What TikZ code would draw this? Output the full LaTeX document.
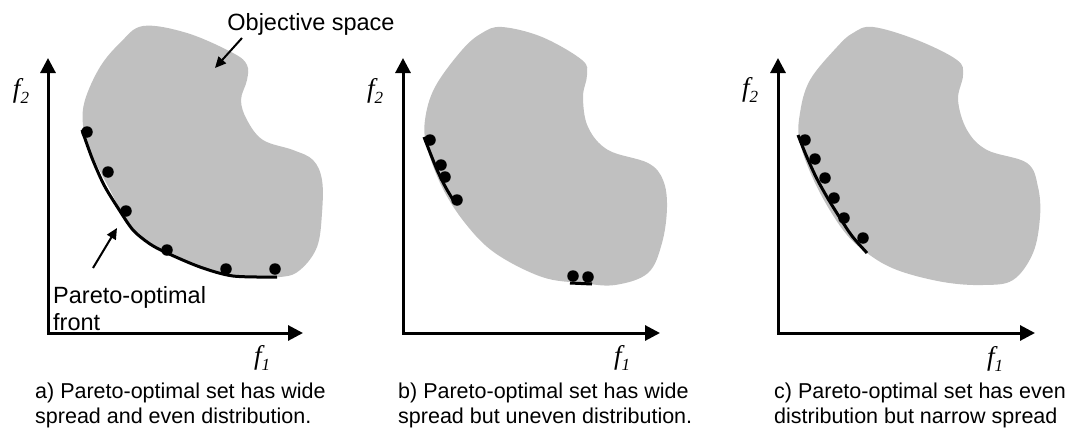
\documentclass[tikz,border=0pt]{standalone}
\usepackage{fontspec}
\setmainfont{Liberation Sans}
\newfontfamily\axisfont{Liberation Serif}
\usepackage{xcolor}
\usetikzlibrary{arrows.meta, positioning}

\definecolor{blobgray}{RGB}{192,192,192}
\newcommand{\objf}[1]{{\axisfont\itshape f\raisebox{-0.22em}{\fontsize{17}{17}\selectfont #1}}}

\begin{document}
\begin{tikzpicture}[
    x=1pt, y=-1pt,
    blob/.style={fill=blobgray},
    axis/.style={line width=3pt, {Triangle[length=15pt, width=15pt]}-{Triangle[length=15pt, width=15pt]}},
    front/.style={line width=3pt},
    dot/.style={circle, fill=black, inner sep=0pt, minimum size=11.5pt},
    pointer/.style={line width=2pt, -{Triangle[length=11pt, width=10pt]}},
    note/.style={font=\fontsize{23.5}{27}\selectfont, align=left, inner sep=0pt},
    caption/.style={font=\fontsize{21.5}{25}\selectfont, align=left, inner sep=0pt, anchor=north west},
    varlabel/.style={font=\fontsize{27}{27}\selectfont, inner sep=0pt}
]
\useasboundingbox (0,0) rectangle (1065,431);

% Objective spaces
\fill[blob] plot[smooth cycle, tension=0.6] coordinates {(143,26) (187,33) (233,53) (247,65) (247,80) (241,100) (247,120) (263,140) (293,150) (313,160) (322,180) (322,213) (317,247) (300,270) (280,277) (233,277) (200,267) (167,253) (133,230) (110,190) (90,150) (83,125) (85,100) (100,67) (120,43)};
\fill[blob] plot[smooth cycle, tension=0.6] coordinates {(502,27) (542,37) (582,60) (587,75) (583,97) (588,127) (608,150) (648,163) (663,180) (667,207) (662,243) (648,273) (615,285) (582,283) (542,277) (495,253) (465,223) (442,187) (427,147) (425,120) (435,87) (462,50) (482,33)};
\fill[blob] plot[smooth cycle, tension=0.6] coordinates {(873,27) (917,40) (957,60) (963,75) (958,100) (967,130) (987,150) (1027,163) (1038,187) (1040,217) (1033,253) (1013,280) (983,285) (943,282) (897,270) (867,253) (843,230) (817,187) (800,143) (800,113) (810,80) (837,47) (853,33)};

% Axes
\coordinate (oa) at (48,333);
\coordinate (ya) at (48,58);
\coordinate (xa) at (303,333);
\coordinate (ob) at (403,333);
\coordinate (yb) at (403,58);
\coordinate (xb) at (660,333);
\coordinate (oc) at (778,333);
\coordinate (yc) at (778,58);
\coordinate (xc) at (1035,333);
\draw[axis] (ya) -- (oa) -- (xa);
\draw[axis] (yb) -- (ob) -- (xb);
\draw[axis] (yc) -- (oc) -- (xc);

\node[varlabel] (f2a) at (21,91) {\objf{2}};
\node[varlabel] (f1a) at (262,358) {\objf{1}};
\node[varlabel] (f2b) at (375,91) {\objf{2}};
\node[varlabel] (f1b) at (622,358) {\objf{1}};
\node[varlabel] (f2c) at (750,90) {\objf{2}};
\node[varlabel] (f1c) at (995,359) {\objf{1}};

% Fronts
\draw[front] plot[smooth] coordinates {(82,130) (92,158) (104,185) (118,208) (133,230) (150,244) (167,253) (200,267) (233,276) (277,277)};
\draw[front] plot[smooth] coordinates {(424,137) (431,155) (438,172) (446,188) (455,203)};
\draw[front] (570,283) -- (592,284);
\draw[front] plot[smooth] coordinates {(798,135) (806,155) (816,177) (827,197) (840,218) (852,236) (867,253)};

% Solutions
\node[dot] (a1) at (87,132) {};
\node[dot] (a2) at (108,172) {};
\node[dot] (a3) at (126,211) {};
\node[dot] (a4) at (167,250) {};
\node[dot] (a5) at (226,269) {};
\node[dot] (a6) at (275,269) {};
\node[dot] (b1) at (430,140) {};
\node[dot] (b2) at (441,165) {};
\node[dot] (b3) at (445,177) {};
\node[dot] (b4) at (457,200) {};
\node[dot] (b5) at (573,276) {};
\node[dot] (b6) at (588,277) {};
\node[dot] (c1) at (805,140) {};
\node[dot] (c2) at (815,159) {};
\node[dot] (c3) at (825,178) {};
\node[dot] (c4) at (834,198) {};
\node[dot] (c5) at (844,218) {};
\node[dot] (c6) at (863,238) {};

% Annotations
\node[note, anchor=base] (objspace) at (311,30) {Objective space};
\node[note, anchor=north west] (paretolabel) at (53,286) {Pareto-optimal\\front};
\coordinate (objtail) at (242,38);
\coordinate (objhead) at (215,68);
\coordinate (paretotail) at (93,268);
\coordinate (paretohead) at (117,228);
\draw[pointer] (objtail) -- (objhead);
\draw[pointer] (paretotail) -- (paretohead);

% Captions
\node[caption] (capa) at (35,383) {a) Pareto-optimal set has wide\\spread and even distribution.};
\node[caption] (capb) at (398,383) {b) Pareto-optimal set has wide\\spread but uneven distribution.};
\node[caption] (capc) at (774,383) {c) Pareto-optimal set has even\\distribution but narrow spread};

\end{tikzpicture}
\end{document}
